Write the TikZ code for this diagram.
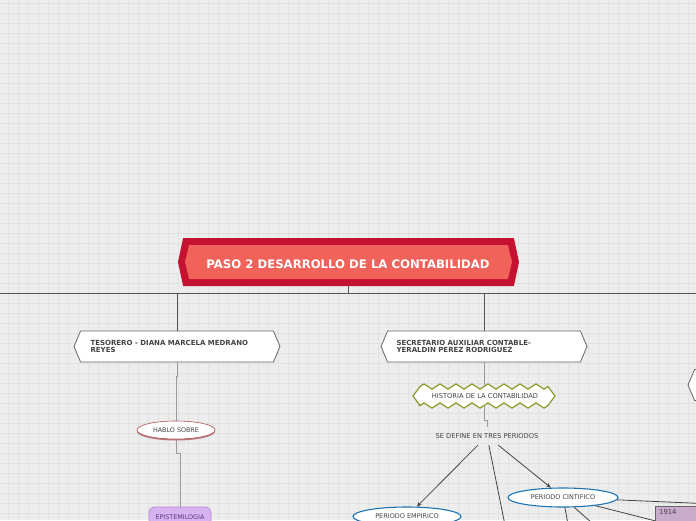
\documentclass[tikz,border=0pt]{standalone}
\usepackage{fontspec}
\setmainfont{DejaVu Sans}
\usetikzlibrary{shapes.symbols,shapes.geometric,arrows.meta,decorations.pathmorphing,calc}
\definecolor{bg}{HTML}{EDEDED}
\definecolor{gridc}{HTML}{E2E2E2}
\definecolor{titleout}{HTML}{C41230}
\definecolor{titlein}{HTML}{F0625A}
\definecolor{txt}{HTML}{444444}
\definecolor{olivec}{HTML}{8C9A2C}
\definecolor{blueb}{HTML}{1B75B5}
\definecolor{purf}{HTML}{D9B2F2}
\definecolor{purb}{HTML}{B88AD8}
\definecolor{purt}{HTML}{5A3A7A}
\definecolor{boxf}{HTML}{C9ABCB}
\definecolor{mainline}{HTML}{555555}
\definecolor{thinline}{HTML}{9A9A9A}
\definecolor{hexb}{HTML}{666666}
\tikzset{
  hexnode/.style={signal, signal to=west and east, signal pointer angle=134,
    fill=white, draw=hexb, line width=0.8pt, minimum width=206pt, minimum height=31pt,
    inner sep=0pt},
  hextext/.style={font=\fontsize{7}{7.8}\selectfont\bfseries, text=txt, align=left, anchor=west},
  smalltext/.style={font=\fontsize{6.7}{7.5}\selectfont, text=txt},
  mainconn/.style={draw=mainline, line width=1pt},
  thinconn/.style={draw=thinline, line width=0.8pt},
  arrconn/.style={draw=txt, line width=0.8pt, -{Stealth[length=5pt,width=4pt]}},
  plainconn/.style={draw=txt, line width=0.8pt},
  perell/.style={ellipse, draw=blueb, line width=1.1pt, fill=white, inner sep=0pt,
    font=\fontsize{6.5}{7.3}\selectfont, text=txt},
}
\begin{document}
\begin{tikzpicture}[x=1pt,y=-1pt]
\useasboundingbox (0,0) rectangle (696,520);
\clip (0,0) rectangle (696,520);
\fill[bg] (0,0) rectangle (696,520);
\draw[gridc, line width=0.6pt] foreach \x in {8,18,...,688} {(\x,0) -- (\x,520)};
\draw[gridc, line width=0.6pt] foreach \y in {3,13,...,513} {(0,\y) -- (696,\y)};

% title
\node[signal, signal to=west and east, signal pointer angle=156, fill=titleout,
  minimum width=341pt, minimum height=48pt, inner sep=0pt] (title) at (348.5,262) {};
\node[signal, signal to=west and east, signal pointer angle=153, fill=titlein,
  minimum width=327pt, minimum height=34pt, inner sep=0pt] (titlein) at (348.5,262) {};
\node[font=\fontsize{11.7}{13}\selectfont\bfseries, text=white, inner sep=0pt] (titletxt) at (348,264.5)
  {PASO 2 DESARROLLO DE LA CONTABILIDAD};

% bus
\coordinate (busL) at (0,293);
\coordinate (busR) at (696,293);
\draw[mainconn] (busL) -- (busR);
\draw[mainconn] (title.south) -- (title.south |- busL);

% level 1 nodes
\node[hexnode] (tes) at (177,346.5) {};
\node[hextext] (testxt) at (87,346.5) {TESORERO - DIANA MARCELA MEDRANO\\REYES};
\node[hexnode] (sec) at (484,346.5) {};
\node[hextext] (sectxt) at (393,346.5) {SECRETARIO AUXILIAR CONTABLE-\\YERALDIN PEREZ RODRIGUEZ};
\node[hexnode, minimum width=164pt] (rnode) at (770,385) {};
\draw[mainconn] (tes.north) -- (tes.north |- busL);
\draw[mainconn] (sec.north) -- (sec.north |- busL);

% left branch
\node[ellipse, fill=red!30!gray!80, minimum width=78pt, minimum height=18pt, inner sep=0pt] (hablosh) at (176,431.5) {};
\node[ellipse, fill=white, draw=red!35!gray, line width=0.6pt, minimum width=78pt, minimum height=18pt,
  inner sep=0pt, smalltext, font=\fontsize{6.4}{7}\selectfont] (hablo) at (176,430) {HABLO SOBRE};
\node[rectangle, rounded corners=6pt, fill=purf, draw=purb, line width=0.8pt,
  minimum width=62pt, minimum height=24pt, inner sep=0pt,
  font=\fontsize{6.4}{7}\selectfont, text=purt] (epi) at (180,519) {\raisebox{4pt}{EPISTEMILOGIA}};
\draw[thinconn] (tes.south) -- ++(0,14) -| (hablo.north);
\draw[thinconn] (hablo.south) -- ++(0,14) -| (epi.north);

% middle branch
\draw[olivec, line width=1.2pt, fill=white, decoration={zigzag, segment length=16pt, amplitude=2.6pt}]
  (413,396) -- (420,386.5) decorate{-- (548,386.5)} -- (555,396) -- (548,405.5) decorate{-- (420,405.5)} -- cycle;
\node[smalltext, minimum height=20pt, minimum width=136pt, inner sep=0pt] (hist) at (485,396) {HISTORIA DE LA CONTABILIDAD};
\node[smalltext, minimum height=18pt, inner sep=0pt] (sedef) at (487,436) {SE DEFINE EN TRES PERIODOS};
\draw[thinconn] (sec.south) -- (sec.south |- hist.north);
\draw[thinconn] (sec.south |- hist.south) -- ++(0,14) -| (sedef.north);

\node[perell, minimum width=108pt, minimum height=19pt] (emp) at (407,516.5) {\raisebox{1pt}{PERIODO EMPIRICO}};
\node[perell, minimum width=110pt, minimum height=19pt] (cint) at (563,497.5) {PERIODO CINTIFICO};
\coordinate (midend) at (508,540);
\draw[arrconn] (sedef) -- (emp);
\draw[arrconn] (sedef) -- (cint);
\draw[plainconn] (sedef) -- (midend);

% right sub-branch of cintifico
\node[rectangle, fill=boxf, draw=hexb, line width=0.6pt, anchor=north west,
  minimum width=90pt, minimum height=30pt, inner sep=0pt] (box) at (655,505.5) {};
\node[anchor=north west, font=\fontsize{6.8}{7.5}\selectfont, text=txt, inner sep=0pt] (boxtxt) at (659,509.5) {1914};
\coordinate (c1) at (760,506);
\coordinate (c2) at (571,540);
\coordinate (c3) at (600,530);
\draw[plainconn] (cint) -- (c1);
\draw[plainconn] (cint) -- (box.west);
\draw[plainconn] (cint) -- (c2);
\draw[plainconn] (cint) -- (c3);
\end{tikzpicture}
\end{document}
